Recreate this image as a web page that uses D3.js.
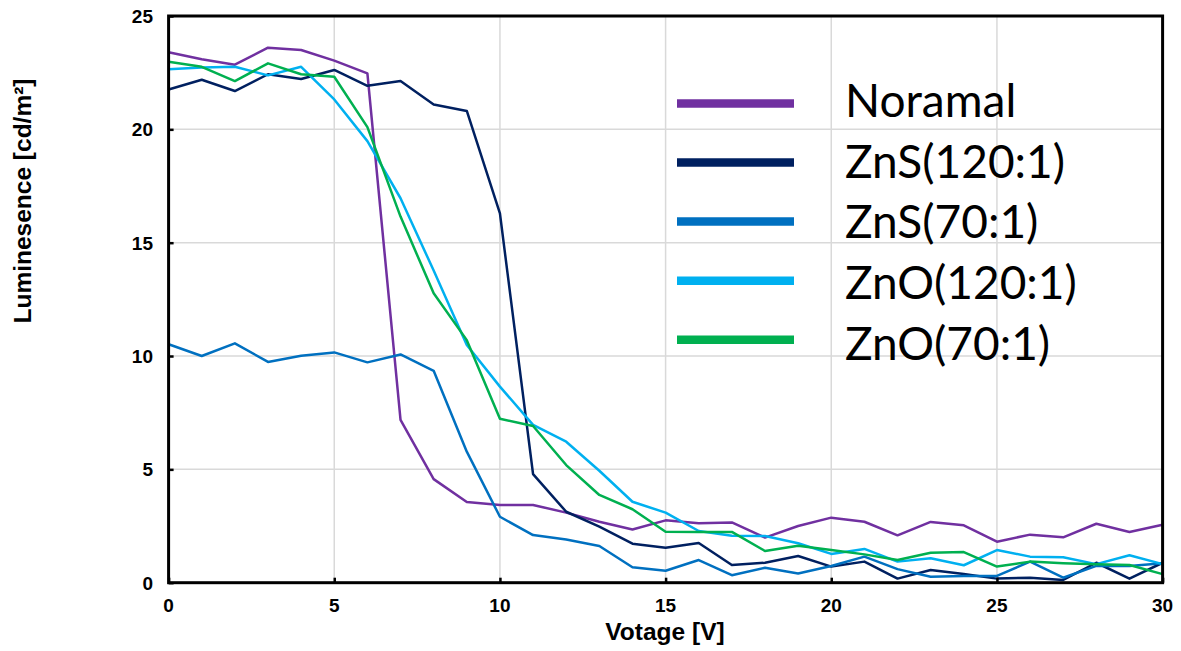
<!DOCTYPE html>
<html>
<head>
<meta charset="utf-8">
<script src="https://cdn.jsdelivr.net/npm/d3@7/dist/d3.min.js"></script>
<style>
  html, body { margin: 0; padding: 0; background: #fff; }
  svg { display: block; }
</style>
</head>
<body>
<svg id="chart" width="1181" height="651"></svg>
<script>
// Applied voltage (V)
const voltage = [0, 1, 2, 3, 4, 5, 6, 7, 8, 9, 10, 11, 12, 13, 14, 15,
                 16, 17, 18, 19, 20, 21, 22, 23, 24, 25, 26, 27, 28, 29, 30];

// Luminescence (cd/m²) per sample
const normal = [23.40, 23.09, 22.85, 23.60, 23.50, 23.03, 22.47, 7.18, 4.57, 3.56, 3.43,
                3.43, 3.09, 2.69, 2.35, 2.75, 2.62, 2.66, 1.99, 2.50, 2.87,
                2.69, 2.09, 2.68, 2.53, 1.81, 2.12, 2.00, 2.60, 2.24, 2.56];
const zns120 = [21.76, 22.19, 21.69, 22.43, 22.22, 22.62, 21.92, 22.13, 21.10, 20.81, 16.29,
                4.79, 3.13, 2.47, 1.72, 1.54, 1.75, 0.78, 0.88, 1.18, 0.71,
                0.93, 0.18, 0.56, 0.38, 0.18, 0.22, 0.12, 0.88, 0.18, 0.88];
const zns70  = [10.52, 10.00, 10.56, 9.74, 10.01, 10.16, 9.72, 10.07, 9.35, 5.78, 2.91,
                2.10, 1.91, 1.62, 0.68, 0.53, 1.00, 0.33, 0.66, 0.41, 0.74,
                1.15, 0.60, 0.26, 0.30, 0.30, 0.93, 0.22, 0.74, 0.74, 0.86];
const zno120 = [22.65, 22.73, 22.76, 22.38, 22.76, 21.32, 19.48, 16.96, 13.77, 10.49, 8.65,
                6.96, 6.22, 4.94, 3.57, 3.09, 2.28, 2.07, 2.06, 1.74, 1.27,
                1.49, 0.93, 1.08, 0.77, 1.44, 1.15, 1.12, 0.82, 1.21, 0.82];
const zno70  = [22.98, 22.76, 22.13, 22.91, 22.43, 22.32, 20.10, 16.15, 12.77, 10.70, 7.23,
                6.91, 5.19, 3.87, 3.24, 2.25, 2.24, 2.24, 1.40, 1.63, 1.44,
                1.25, 1.00, 1.32, 1.35, 0.71, 0.93, 0.86, 0.81, 0.78, 0.38];

const seriesNames = ["Noramal", "ZnS(120:1)", "ZnS(70:1)", "ZnO(120:1)", "ZnO(70:1)"];
const seriesColors = ["#7030A0", "#002060", "#0070C0", "#00B0F0", "#00B050"];
const seriesValues = [normal, zns120, zns70, zno120, zno70];

const xTicks = [0, 5, 10, 15, 20, 25, 30];
const yTicks = [0, 5, 10, 15, 20, 25];

const svg = d3.select("#chart");
const plot = { left: 168.6, right: 1162.6, top: 16, bottom: 582.7 };

const x = d3.scaleLinear().domain([0, 30]).range([plot.left, plot.right]);
const y = d3.scaleLinear().domain([0, 25]).range([plot.bottom, plot.top]);

// Gridlines
const grid = svg.append("g").attr("stroke", "#d9d9d9").attr("stroke-width", 1.5);
grid.selectAll("line.v").data(xTicks.slice(1, -1)).join("line")
  .attr("x1", d => x(d)).attr("x2", d => x(d))
  .attr("y1", plot.top).attr("y2", plot.bottom);
grid.selectAll("line.h").data(yTicks.slice(1, -1)).join("line")
  .attr("x1", plot.left).attr("x2", plot.right)
  .attr("y1", d => y(d)).attr("y2", d => y(d));

// Series lines
const line = d3.line().x((d, i) => x(voltage[i])).y(d => y(d));
svg.append("g").selectAll("path").data(seriesValues).join("path")
  .attr("fill", "none")
  .attr("stroke", (d, i) => seriesColors[i])
  .attr("stroke-width", 2.5)
  .attr("stroke-linejoin", "round")
  .attr("d", d => line(d));

// Axes (inside ticks, labels drawn separately)
const tickFont = "'Liberation Sans', Arial, sans-serif";
const xAxis = d3.axisBottom(x).tickValues(xTicks).tickSize(-5).tickFormat("");
const yAxis = d3.axisLeft(y).tickValues(yTicks).tickSize(-5).tickFormat("");
svg.append("g").attr("transform", `translate(0,${plot.bottom})`).call(xAxis)
  .call(g => g.select(".domain").remove())
  .call(g => g.selectAll("line").attr("stroke", "#000").attr("stroke-width", 2.5));
svg.append("g").attr("transform", `translate(${plot.left},0)`).call(yAxis)
  .call(g => g.select(".domain").remove())
  .call(g => g.selectAll("line").attr("stroke", "#000").attr("stroke-width", 2.5));

// Frame
svg.append("rect")
  .attr("x", plot.left).attr("y", plot.top)
  .attr("width", plot.right - plot.left).attr("height", plot.bottom - plot.top)
  .attr("fill", "none").attr("stroke", "#000").attr("stroke-width", 3);

// Tick labels
svg.append("g").selectAll("text").data(xTicks).join("text")
  .attr("x", d => x(d)).attr("y", 611.5)
  .attr("text-anchor", "middle")
  .style("font-family", tickFont).style("font-weight", "bold").style("font-size", "19px")
  .text(d => d);
svg.append("g").selectAll("text").data(yTicks).join("text")
  .attr("x", 153).attr("y", d => y(d) + 7)
  .attr("text-anchor", "end")
  .style("font-family", tickFont).style("font-weight", "bold").style("font-size", "19px")
  .text(d => d);

// Axis titles
svg.append("text")
  .attr("x", 665).attr("y", 640)
  .attr("text-anchor", "middle")
  .style("font-family", tickFont).style("font-weight", "bold").style("font-size", "24.5px")
  .text("Votage [V]");
svg.append("text")
  .attr("transform", "translate(31,201) rotate(-90)")
  .attr("text-anchor", "middle")
  .style("font-family", tickFont).style("font-weight", "bold").style("font-size", "24.5px")
  .text("Luminesence [cd/m²]");

// Legend
const legend = svg.append("g");
seriesNames.forEach((name, i) => {
  const sy = 103.4 + 59.1 * i;
  legend.append("line")
    .attr("x1", 677).attr("x2", 794)
    .attr("y1", sy).attr("y2", sy)
    .attr("stroke", seriesColors[i]).attr("stroke-width", 8.5);
  legend.append("text")
    .attr("x", 845).attr("y", 116.7 + 60.8 * i)
    .style("font-family", "Lato, 'Open Sans', sans-serif")
    .style("font-size", "46px")
    .attr("fill", "#000")
    .text(name);
});
</script>
</body>
</html>
